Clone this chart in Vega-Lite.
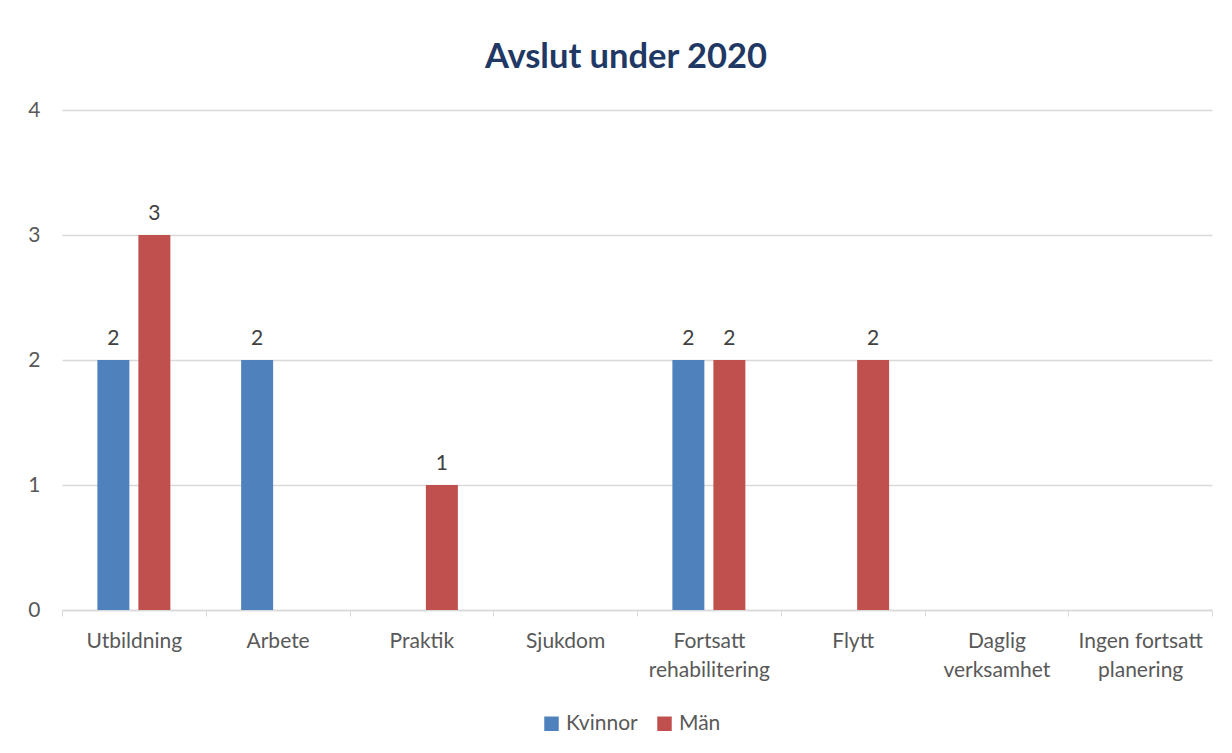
{
  "$schema": "https://vega.github.io/schema/vega-lite/v6.json",
  "width": 1150,
  "height": 500,
  "autosize": "none",
  "padding": {"left": 62, "top": 110, "right": 20, "bottom": 143},
  "background": "white",
  "title": {
    "text": "Avslut under 2020",
    "font": "Lato",
    "fontSize": 34.5,
    "fontWeight": "bold",
    "color": "#1F3864",
    "anchor": "middle",
    "dx": -11,
    "offset": 24
  },
  "config": {
    "view": {"stroke": null},
    "font": "Lato"
  },
  "data": {
    "values": [
      {"kategori": "Utbildning", "kon": "Kvinnor", "antal": 2},
      {"kategori": "Utbildning", "kon": "Män", "antal": 3},
      {"kategori": "Arbete", "kon": "Kvinnor", "antal": 2},
      {"kategori": "Praktik", "kon": "Män", "antal": 1},
      {"kategori": "Fortsatt rehabilitering", "kon": "Kvinnor", "antal": 2},
      {"kategori": "Fortsatt rehabilitering", "kon": "Män", "antal": 2},
      {"kategori": "Flytt", "kon": "Män", "antal": 2}
    ]
  },
  "encoding": {
    "x": {
      "field": "kategori",
      "type": "nominal",
      "sort": null,
      "scale": {
        "domain": ["Utbildning", "Arbete", "Praktik", "Sjukdom", "Fortsatt rehabilitering", "Flytt", "Daglig verksamhet", "Ingen fortsatt planering"],
        "paddingInner": 0,
        "paddingOuter": 0
      },
      "axis": {
        "title": null,
        "labelAngle": 0,
        "labelFont": "Lato",
        "labelFontSize": 21,
        "labelColor": "#595959",
        "labelPadding": 14,
        "labelLineHeight": 29,
        "labelBaseline": "top",
        "tickBand": "extent",
        "tickColor": "#D9D9D9",
        "tickSize": 6,
        "domainColor": "#D9D9D9",
        "domainWidth": 1.5,
        "grid": false,
        "labelExpr": "datum.label == 'Fortsatt rehabilitering' ? ['Fortsatt', 'rehabilitering'] : datum.label == 'Daglig verksamhet' ? ['Daglig', 'verksamhet'] : datum.label == 'Ingen fortsatt planering' ? ['Ingen fortsatt', 'planering'] : datum.label"
      }
    },
    "xOffset": {
      "field": "kon",
      "type": "nominal",
      "scale": {"domain": ["Kvinnor", "Män"], "paddingInner": 0.22, "paddingOuter": 0.863}
    },
    "y": {
      "field": "antal",
      "type": "quantitative",
      "scale": {"domain": [0, 4]},
      "axis": {
        "title": null,
        "values": [0, 1, 2, 3, 4],
        "labelFont": "Lato",
        "labelFontSize": 21,
        "labelColor": "#595959",
        "labelPadding": 22,
        "ticks": false,
        "domain": false,
        "gridColor": "#D9D9D9",
        "gridWidth": 1.5
      }
    }
  },
  "layer": [
    {
      "mark": {"type": "bar"},
      "encoding": {
        "color": {
          "field": "kon",
          "type": "nominal",
          "scale": {"domain": ["Kvinnor", "Män"], "range": ["#4F81BD", "#C0504D"]},
          "legend": {
            "title": null,
            "orient": "none",
            "legendX": 479,
            "legendY": 603,
            "direction": "horizontal",
            "symbolType": "square",
            "symbolSize": 210,
            "symbolStrokeWidth": 0,
            "labelFont": "Lato",
            "labelFontSize": 21,
            "labelColor": "#595959",
            "columnPadding": 16
          }
        }
      }
    },
    {
      "mark": {"type": "text", "baseline": "alphabetic", "dy": -15, "font": "Lato", "fontSize": 21, "color": "#404040"},
      "encoding": {
        "text": {"field": "antal", "type": "quantitative"}
      }
    }
  ]
}
